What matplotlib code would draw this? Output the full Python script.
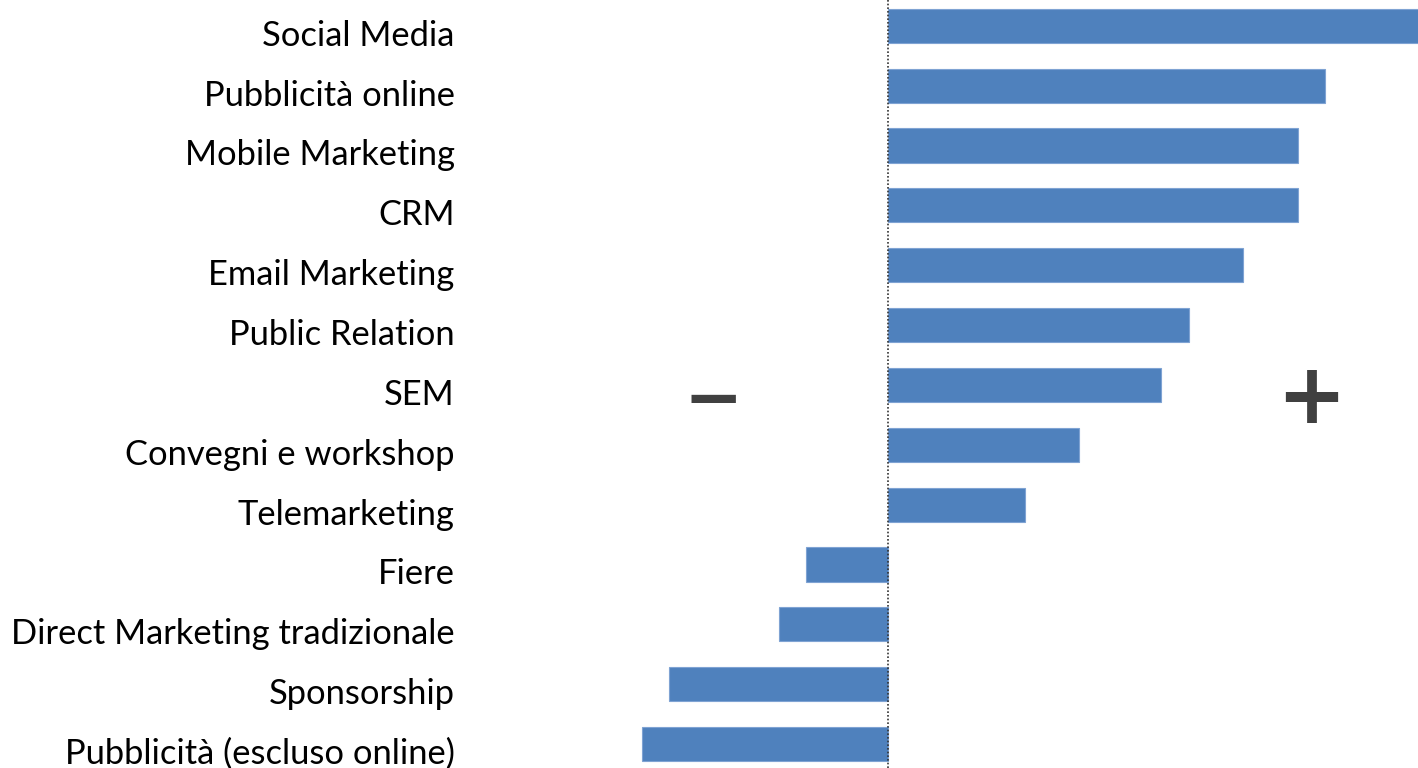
import matplotlib
matplotlib.use("Agg")
import matplotlib.pyplot as plt
import matplotlib.transforms as mtransforms

categories = ["Social Media", "Pubblicità online", "Mobile Marketing", "CRM",
              "Email Marketing", "Public Relation", "SEM", "Convegni e workshop",
              "Telemarketing", "Fiere", "Direct Marketing tradizionale",
              "Sponsorship", "Pubblicità (escluso online)"]
values = [20, 16, 15, 15, 13, 11, 10, 7, 5, -3, -4, -8, -9]

W, H = 1418, 768
fig = plt.figure(figsize=(W / 100, H / 100), dpi=100)
ax = fig.add_axes([470 / W, 0, 1 - 470 / W, 1])

ypos = list(range(len(categories)))
ax.barh(ypos, values, height=0.57, color="#4F81BD", edgecolor="#7FA3D3", linewidth=0.8, zorder=2)
ax.axvline(0, color="#333333", linestyle=(0, (1, 1.2)), linewidth=1.2, zorder=3)

ax.set_xlim(-15.3, 19.4)
ax.set_ylim(len(categories) - 0.6, -0.43)
ax.set_yticks(ypos)
ax.set_yticklabels(categories, fontsize=24.8, family="Lato")
ax.tick_params(axis="y", length=0, pad=11)
ax.set_xticks([])
for s in ax.spines.values():
    s.set_visible(False)

off = mtransforms.ScaledTranslation(0, -7 / 100, fig.dpi_scale_trans)
for lbl in ax.get_yticklabels():
    lbl.set_transform(lbl.get_transform() + off)

ax.text(-6.4, 6.27, "\u2212", fontsize=51, fontweight="bold", color="#404040",
        ha="center", va="center", family="DejaVu Sans")
ax.text(15.5, 6.24, "+", fontsize=60, fontweight="bold", color="#404040",
        ha="center", va="center", family="DejaVu Sans")

fig.savefig("out.png", dpi=100)
